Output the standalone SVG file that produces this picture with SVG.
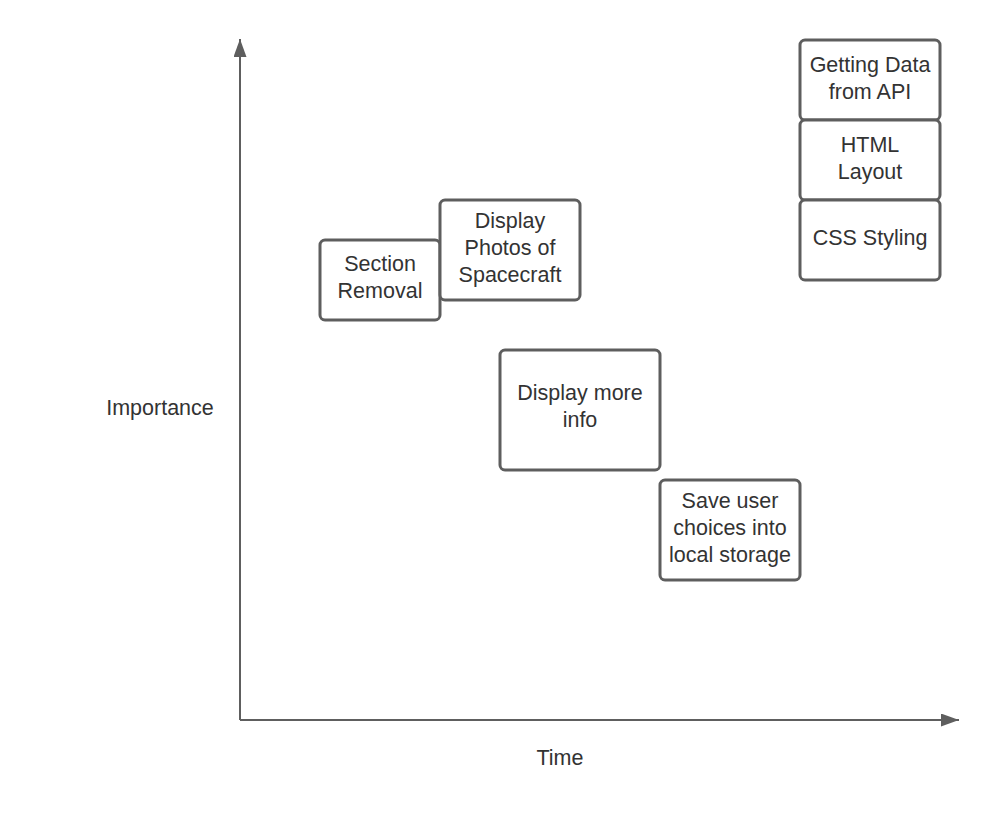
<svg xmlns="http://www.w3.org/2000/svg" width="997" height="830" viewBox="0 0 997 830">
<style>
.box{fill:#ffffff;stroke:#5e5e5e;stroke-width:3}
.axis{stroke:#5e5e5e;stroke-width:2;fill:none}
text{font-family:"Liberation Sans",Arial,sans-serif;font-size:21.5px;fill:#333333;text-anchor:middle}
</style>
<defs>
<marker id="arr" markerWidth="18" markerHeight="13" refX="18" refY="6.5" orient="auto" markerUnits="userSpaceOnUse" viewBox="0 0 18 13">
<path d="M0,0 L18,6.5 L0,13 Z" fill="#5e5e5e"/>
</marker>
</defs>
<rect width="997" height="830" fill="#ffffff"/>
<g id="connectors">
<path class="axis" d="M240,720 L240,39" marker-end="url(#arr)"/>
<path class="axis" d="M240,720 L959,720" marker-end="url(#arr)"/>
</g>
<g id="label-importance"><text x="160" y="415">Importance</text></g>
<g id="label-time"><text x="560" y="765">Time</text></g>
<g id="section-removal">
<rect class="box" x="320" y="240" width="120" height="80" rx="5"/>
<text x="380" y="271">Section</text><text x="380" y="298">Removal</text>
</g>
<g id="display-photos">
<rect class="box" x="440" y="200" width="140" height="100" rx="5"/>
<text x="510" y="228">Display</text><text x="510" y="255">Photos of</text><text x="510" y="282">Spacecraft</text>
</g>
<g id="getting-data">
<rect class="box" x="800" y="40" width="140" height="80" rx="5"/>
<text x="870" y="72">Getting Data</text><text x="870" y="99">from API</text>
</g>
<g id="html-layout">
<rect class="box" x="800" y="120" width="140" height="80" rx="5"/>
<text x="870" y="152">HTML</text><text x="870" y="179">Layout</text>
</g>
<g id="css-styling">
<rect class="box" x="800" y="200" width="140" height="80" rx="5"/>
<text x="870" y="245">CSS Styling</text>
</g>
<g id="display-more-info">
<rect class="box" x="500" y="350" width="160" height="120" rx="5"/>
<text x="580" y="400">Display more</text><text x="580" y="427">info</text>
</g>
<g id="save-user-choices">
<rect class="box" x="660" y="480" width="140" height="100" rx="5"/>
<text x="730" y="508">Save user</text><text x="730" y="535">choices into</text><text x="730" y="562">local storage</text>
</g>
</svg>
